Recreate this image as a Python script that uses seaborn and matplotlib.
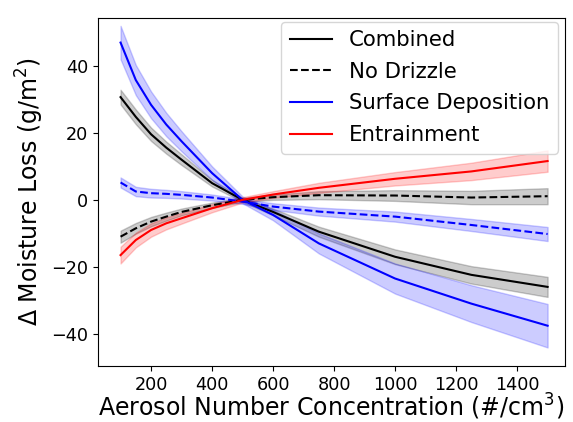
import numpy as np
import pandas as pd
import matplotlib
matplotlib.use("Agg")
import matplotlib.pyplot as plt
import seaborn as sns

# aerosol number concentration (#/cm3)
conc = [100, 150, 200, 250, 300, 400, 500, 600, 750, 1000, 1250, 1500]

combined = [30.7, 24.8, 19.6, 15.6, 12.0, 5.0, 0.0, -3.6, -9.5, -17.0, -22.4, -26.0]
combined_err = [2.2, 2.2, 2.0, 1.8, 1.6, 1.0, 0.6, 1.0, 1.5, 2.2, 2.6, 3.0]

no_drizzle = [-11.0, -8.5, -6.5, -5.0, -3.6, -1.6, 0.0, 0.8, 1.4, 1.3, 0.7, 1.1]
no_drizzle_err = [1.8, 1.6, 1.4, 1.2, 1.0, 0.8, 0.6, 0.8, 1.2, 1.6, 2.0, 2.4]

surface_dep = [47.0, 35.8, 28.4, 22.5, 17.5, 8.0, 0.0, -4.5, -13.0, -23.5, -31.0, -37.6]
surface_dep_err = [5.0, 4.5, 4.0, 3.5, 3.0, 2.0, 1.0, 1.6, 3.0, 4.5, 5.5, 6.5]

surface_dep_nd = [5.2, 2.5, 2.0, 1.8, 1.5, 0.7, -0.5, -2.0, -3.5, -5.0, -7.5, -10.2]
surface_dep_nd_err = [1.5, 1.4, 1.3, 1.2, 1.1, 0.9, 0.7, 1.0, 1.2, 1.5, 1.8, 2.1]

entrainment = [-16.5, -12.0, -9.0, -7.0, -5.5, -2.5, 0.0, 1.6, 3.6, 6.3, 8.5, 11.6]
entrainment_err = [2.5, 2.2, 2.0, 1.8, 1.6, 1.2, 0.8, 1.0, 1.5, 2.0, 2.6, 3.2]

series = [
    ("Combined", combined, combined_err, "black", "-"),
    ("No Drizzle", no_drizzle, no_drizzle_err, "black", "--"),
    ("Surface Deposition", surface_dep, surface_dep_err, "blue", "-"),
    ("_sd_nd", surface_dep_nd, surface_dep_nd_err, "blue", "--"),
    ("Entrainment", entrainment, entrainment_err, "red", "-"),
]

fig, ax = plt.subplots(figsize=(5.73, 4.22), dpi=100)
for name, vals, err, color, ls in series:
    df = pd.DataFrame({"conc": conc, "val": vals, "err": err})
    sns.lineplot(data=df, x="conc", y="val", color=color, linestyle=ls,
                 label=None if name.startswith("_") else name, ax=ax, linewidth=1.5)
    ax.fill_between(df["conc"], df["val"] - df["err"], df["val"] + df["err"],
                    color=color, alpha=0.2)

ax.set_xlim(26, 1557)
ax.set_ylim(-49.6, 54.3)
ax.set_xticks([200, 400, 600, 800, 1000, 1200, 1400])
ax.set_yticks([-40, -20, 0, 20, 40])
ax.tick_params(labelsize=12.7)
ax.set_xlabel("Aerosol Number Concentration (#/cm$^3$)", fontsize=17, labelpad=-1)
ax.set_ylabel("Δ Moisture Loss (g/m$^2$)", fontsize=17)

handles, labels = ax.get_legend_handles_labels()
ax.legend(handles, labels, loc="upper right", fontsize=15.3,
          bbox_to_anchor=(0.985, 0.99), borderaxespad=0, labelspacing=0.55)

plt.subplots_adjust(left=0.171, right=0.986, top=0.957, bottom=0.133)
plt.savefig("out.png", dpi=100)
